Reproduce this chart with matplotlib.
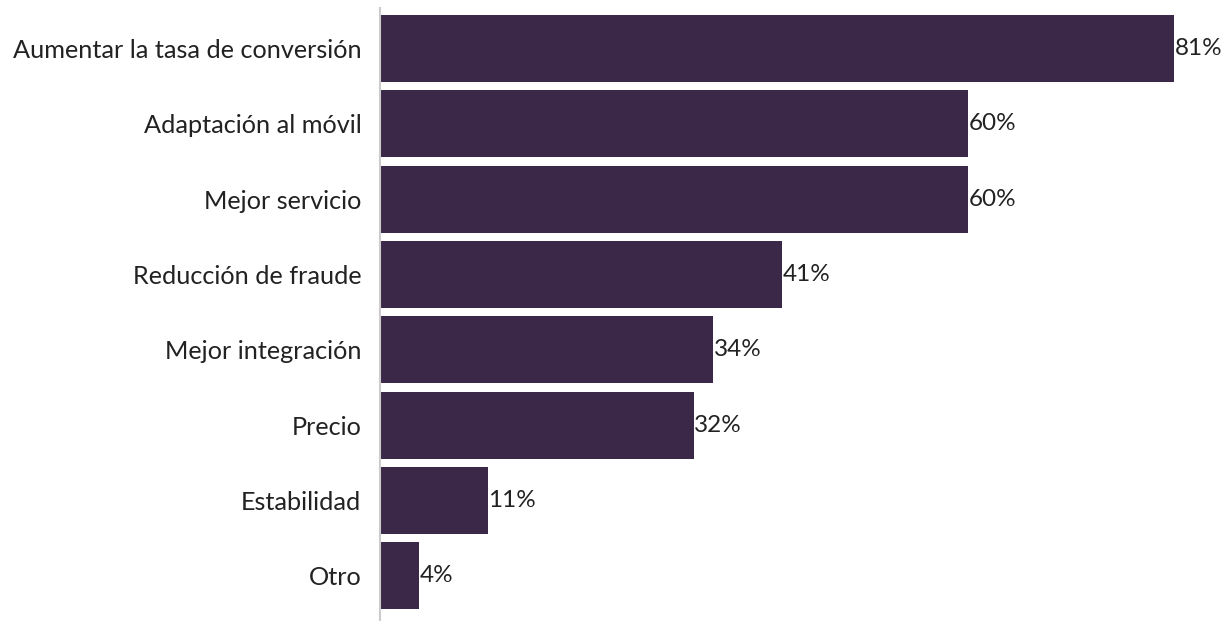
import matplotlib.pyplot as plt

categories = ['Aumentar la tasa de conversión', 'Adaptación al móvil', 'Mejor servicio',
              'Reducción de fraude', 'Mejor integración', 'Precio', 'Estabilidad', 'Otro']
values = [81, 60, 60, 41, 34, 32, 11, 4]

plt.rcParams['font.family'] = ['Lato', 'DejaVu Sans']

fig = plt.figure(figsize=(12.27, 6.21), dpi=100)
ax = fig.add_axes([380 / 1227, 0, 845 / 1227, 613 / 621])

pos = list(range(len(categories)))
ax.barh(pos, values, height=0.89, color='#3b2748')
for p, v in zip(pos, values):
    ax.text(v + 0.05, p, f'{v}%', va='center', ha='left', fontsize=17.5, color='#222222')

ax.set_yticks(pos)
ax.set_yticklabels(categories, fontsize=18.2, color='#222222')
ax.tick_params(axis='y', length=0, pad=13.5)
ax.set_xticks([])
ax.set_xlim(0, 86.2)
ax.set_ylim(7.6, -0.54)
for s in ['top', 'right', 'bottom']:
    ax.spines[s].set_visible(False)
ax.spines['left'].set_color('#cccccc')
ax.spines['left'].set_linewidth(1.5)

fig.savefig('out.png', dpi=100)
